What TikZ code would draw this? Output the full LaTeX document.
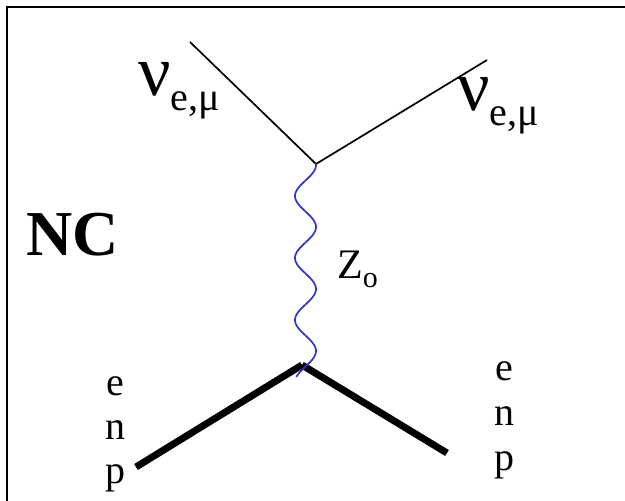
\documentclass[tikz,border=0pt]{standalone}
\usepackage{fontspec}
\setmainfont{Liberation Serif}
\usetikzlibrary{positioning}
\definecolor{zblue}{RGB}{51,51,204}
\tikzset{
    fermion/.style={line width=1.7pt},
    hadron/.style={line width=7pt},
    boson/.style={zblue, line width=1.7pt},
    frameline/.style={line width=2.5pt},
    letter/.style={inner sep=0pt, anchor=base, font=\fontsize{40}{40}\selectfont},
    lbl/.style={inner sep=0pt, anchor=base west}
}
\newcommand{\nulbl}{{\fontsize{72}{72}\selectfont ν}\raisebox{-15pt}{\fontsize{40}{40}\selectfont e,μ}}

\begin{document}
\begin{tikzpicture}[x=1pt, y=-1pt]
    \useasboundingbox (0,0) rectangle (625,501);
    % frame, open at the bottom and on the right
    \coordinate (fbot) at (7,501);
    \coordinate (ftop) at (625,7);
    \draw [frameline] (fbot) |- (ftop);

    % vertices and free ends
    \coordinate (nuin) at (190,42);
    \coordinate (vup) at (316,164);
    \coordinate (nuout) at (487,60);
    \coordinate (hin) at (136,467);
    \coordinate (vdown) at (302,365);
    \coordinate (hout) at (447,453);

    \draw [fermion] (nuin) -- (vup) -- (nuout);
    \draw [hadron] (hin) -- (vdown);
    \draw [hadron] (vdown) -- (hout);
    % Z boson line
    \draw [boson] (vup) -- plot[domain=165:377, samples=140, smooth] ({305.5+10.5*cos(5.80645*(\x-165))}, {\x});

    % labels
    \node (nuL) [lbl] at (138,95) {\nulbl};
    \node (nuR) [lbl] at (457,110) {\nulbl};
    \node (nc) [lbl, font=\fontsize{64}{64}\selectfont\bfseries] at (26,255) {NC};
    \node (zlbl) [lbl] at (337,278) {{\fontsize{42}{42}\selectfont Z}\raisebox{-9pt}{\fontsize{30}{30}\selectfont o}};

    \node (eL) [letter] at (115.5,395) {e};
    \node (nL) [letter] at (115.5,439) {n};
    \node (pL) [letter] at (115.5,483) {p};
    \node (eR) [letter] at (504,380) {e};
    \node (nR) [letter] at (504,425) {n};
    \node (pR) [letter] at (504,470) {p};
\end{tikzpicture}
\end{document}
